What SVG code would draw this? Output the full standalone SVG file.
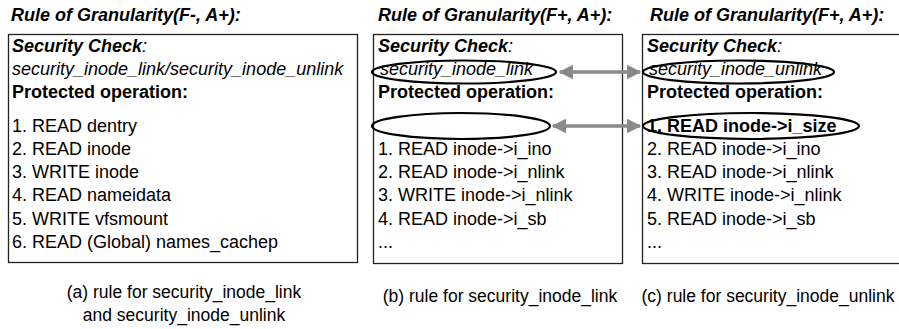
<svg xmlns="http://www.w3.org/2000/svg" width="899" height="329" viewBox="0 0 899 329">
<style>
text{font-family:"Liberation Sans",Arial,Helvetica,sans-serif;font-size:18px;fill:#000}
.t{font-weight:bold;font-style:italic}
.b{font-weight:bold}
.i{font-style:italic}
.cap{font-size:17.5px;text-anchor:middle}
.box{fill:#fff;stroke:#222;stroke-width:1.3}
.ell{fill:none;stroke:#000;stroke-width:2.2}
.arr{stroke:#8a8a8a;stroke-width:3.5;fill:none}
</style>
<defs>
<marker id="ah" viewBox="0 0 10 10" refX="9" refY="5" markerWidth="4.2" markerHeight="4.2" orient="auto-start-reverse" markerUnits="strokeWidth">
<path d="M0,0 L10,5 L0,10 z" fill="#8a8a8a"/>
</marker>
</defs>
<rect width="899" height="329" fill="#fff"/>

<g id="rule-a">
<text class="t" x="11" y="21">Rule of Granularity(F-, A+):</text>
<rect class="box" x="8.5" y="34.5" width="349" height="228"/>
<text x="12" y="52"><tspan class="t">Security Check</tspan><tspan class="i">:</tspan></text>
<text class="i" x="12" y="75">security_inode_link/security_inode_unlink</text>
<text class="b" x="12" y="98">Protected operation:</text>
<text x="12" y="131.5">1. READ dentry</text>
<text x="12" y="154.8">2. READ inode</text>
<text x="12" y="178.1">3. WRITE inode</text>
<text x="12" y="201.4">4. READ nameidata</text>
<text x="12" y="224.7">5. WRITE vfsmount</text>
<text x="12" y="248">6. READ (Global) names_cachep</text>
<text class="cap" x="184" y="298">(a) rule for security_inode_link</text>
<text class="cap" x="184" y="321">and security_inode_unlink</text>
</g>

<g id="rule-b">
<text class="t" x="378" y="21">Rule of Granularity(F+, A+):</text>
<rect class="box" x="373.5" y="34.5" width="249" height="229"/>
<text x="378" y="52"><tspan class="t">Security Check</tspan><tspan class="i">:</tspan></text>
<text class="i" x="380" y="75">security_inode_link</text>
<ellipse class="ell" cx="464" cy="72" rx="92" ry="11.5"/>
<text class="b" x="378" y="98">Protected operation:</text>
<ellipse class="ell" cx="461" cy="126" rx="89" ry="13"/>
<text x="378" y="154.8">1. READ inode-&gt;i_ino</text>
<text x="378" y="178.1">2. READ inode-&gt;i_nlink</text>
<text x="378" y="201.4">3. WRITE inode-&gt;i_nlink</text>
<text x="378" y="224.7">4. READ inode-&gt;i_sb</text>
<text x="378" y="248">...</text>
<text class="cap" x="500" y="302">(b) rule for security_inode_link</text>
</g>

<g id="rule-c">
<text class="t" x="650" y="21">Rule of Granularity(F+, A+):</text>
<rect class="box" x="642.5" y="34.5" width="262" height="229"/>
<text x="647" y="52"><tspan class="t">Security Check</tspan><tspan class="i">:</tspan></text>
<text class="i" x="649" y="75">security_inode_unlink</text>
<ellipse class="ell" cx="738.5" cy="72" rx="95.5" ry="11.5"/>
<text class="b" x="647" y="98">Protected operation:</text>
<text class="b" x="647" y="131.5">1. READ inode-&gt;i_size</text>
<ellipse class="ell" cx="751" cy="126" rx="108" ry="13"/>
<text x="647" y="154.8">2. READ inode-&gt;i_ino</text>
<text x="647" y="178.1">3. READ inode-&gt;i_nlink</text>
<text x="647" y="201.4">4. WRITE inode-&gt;i_nlink</text>
<text x="647" y="224.7">5. READ inode-&gt;i_sb</text>
<text x="647" y="248">...</text>
<text class="cap" x="768" y="302">(c) rule for security_inode_unlink</text>
</g>

<g id="connectors">
<line class="arr" x1="560" y1="72" x2="640" y2="72" marker-start="url(#ah)" marker-end="url(#ah)"/>
<line class="arr" x1="553" y1="126" x2="640" y2="126" marker-start="url(#ah)" marker-end="url(#ah)"/>
</g>
</svg>
